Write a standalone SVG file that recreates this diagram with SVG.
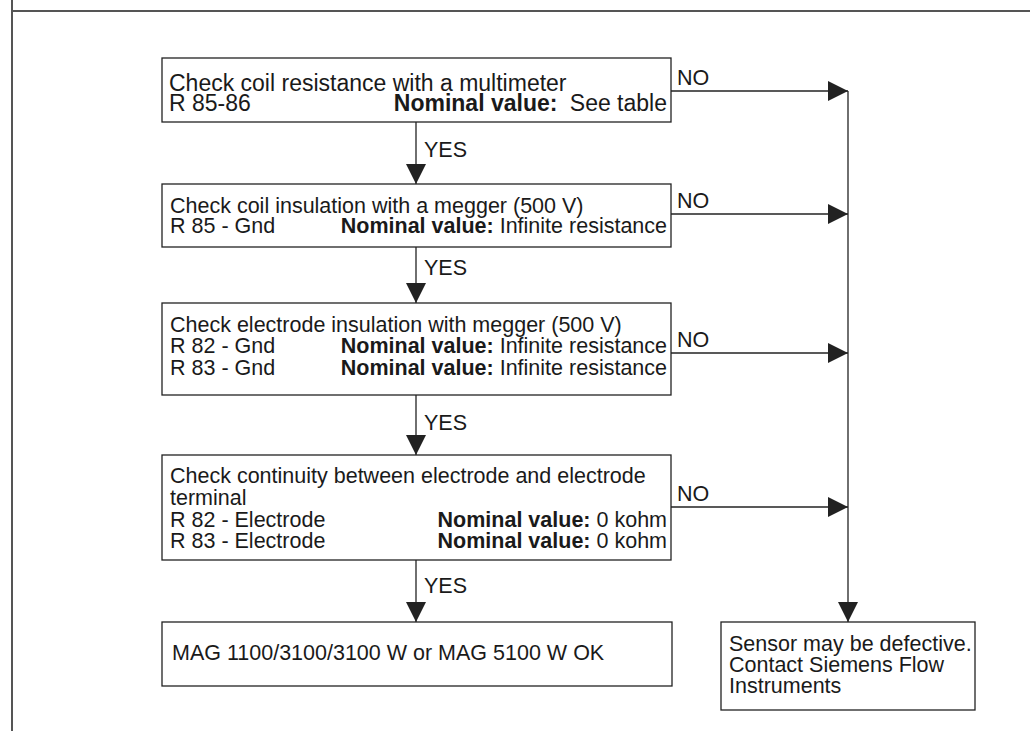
<svg xmlns="http://www.w3.org/2000/svg" width="1030" height="731" viewBox="0 0 1030 731">
<defs>
<style>
text{font-family:"Liberation Sans",Arial,sans-serif;font-size:21.5px;fill:#1a1a1a}
.b{font-weight:bold}
.big{font-size:23px}
.box{fill:#fff;stroke:#222;stroke-width:1.3}
.ln{fill:none;stroke:#222;stroke-width:1.3}
.frame{fill:none;stroke:#555;stroke-width:2}
</style>
<marker id="ah" viewBox="0 0 20 20" refX="20" refY="10" markerWidth="20" markerHeight="20" markerUnits="userSpaceOnUse" orient="auto">
<path d="M0,0 L20,10 L0,20 Z" fill="#222"/>
</marker>
</defs>
<rect width="1030" height="731" fill="#fff"/>
<g id="frame">
<line class="frame" x1="12" y1="11" x2="1030" y2="11"/>
<line class="frame" x1="12" y1="0" x2="12" y2="731"/>
</g>
<g id="connectors">
<line class="ln" x1="416" y1="122" x2="416" y2="184" marker-end="url(#ah)"/>
<line class="ln" x1="416" y1="247" x2="416" y2="303" marker-end="url(#ah)"/>
<line class="ln" x1="416" y1="395" x2="416" y2="455" marker-end="url(#ah)"/>
<line class="ln" x1="416" y1="560" x2="416" y2="622" marker-end="url(#ah)"/>
<line class="ln" x1="671" y1="91" x2="848" y2="91" marker-end="url(#ah)"/>
<line class="ln" x1="671" y1="214" x2="848" y2="214" marker-end="url(#ah)"/>
<line class="ln" x1="671" y1="353" x2="848" y2="353" marker-end="url(#ah)"/>
<line class="ln" x1="671" y1="507" x2="848" y2="507" marker-end="url(#ah)"/>
<line class="ln" x1="848" y1="91" x2="848" y2="622" marker-end="url(#ah)"/>
<text x="424" y="157">YES</text>
<text x="424" y="275">YES</text>
<text x="424" y="430">YES</text>
<text x="424" y="593">YES</text>
<text x="677" y="85">NO</text>
<text x="677" y="208">NO</text>
<text x="677" y="347">NO</text>
<text x="677" y="501">NO</text>
</g>
<g id="n1">
<rect class="box" x="162" y="58" width="509" height="64"/>
<text class="big" x="169" y="91">Check coil resistance with a multimeter</text>
<text class="big" x="169" y="111">R 85-86</text>
<text class="big" x="667" y="111" text-anchor="end"><tspan class="b">Nominal value:</tspan><tspan dx="6"> See table</tspan></text>
</g>
<g id="n2">
<rect class="box" x="162" y="184" width="509" height="63"/>
<text x="170" y="213">Check coil insulation with a megger (500 V)</text>
<text x="170" y="233">R 85 - Gnd</text>
<text x="667" y="233" text-anchor="end"><tspan class="b">Nominal value:</tspan> Infinite resistance</text>
</g>
<g id="n3">
<rect class="box" x="162" y="303" width="509" height="92"/>
<text x="170" y="332">Check electrode insulation with megger (500 V)</text>
<text x="170" y="353">R 82 - Gnd</text>
<text x="667" y="353" text-anchor="end"><tspan class="b">Nominal value:</tspan> Infinite resistance</text>
<text x="170" y="375">R 83 - Gnd</text>
<text x="667" y="375" text-anchor="end"><tspan class="b">Nominal value:</tspan> Infinite resistance</text>
</g>
<g id="n4">
<rect class="box" x="162" y="455" width="509" height="105"/>
<text x="170" y="483">Check continuity between electrode and electrode</text>
<text x="170" y="505">terminal</text>
<text x="170" y="527">R 82 - Electrode</text>
<text x="667" y="527" text-anchor="end"><tspan class="b">Nominal value:</tspan> 0 kohm</text>
<text x="170" y="548">R 83 - Electrode</text>
<text x="667" y="548" text-anchor="end"><tspan class="b">Nominal value:</tspan> 0 kohm</text>
</g>
<g id="n5">
<rect class="box" x="162" y="622" width="510" height="64"/>
<text x="172" y="660">MAG 1100/3100/3100 W or MAG 5100 W OK</text>
</g>
<g id="n6">
<rect class="box" x="721" y="622" width="254" height="88"/>
<text x="729" y="651">Sensor may be defective.</text>
<text x="729" y="672">Contact Siemens Flow</text>
<text x="729" y="693">Instruments</text>
</g>
</svg>
